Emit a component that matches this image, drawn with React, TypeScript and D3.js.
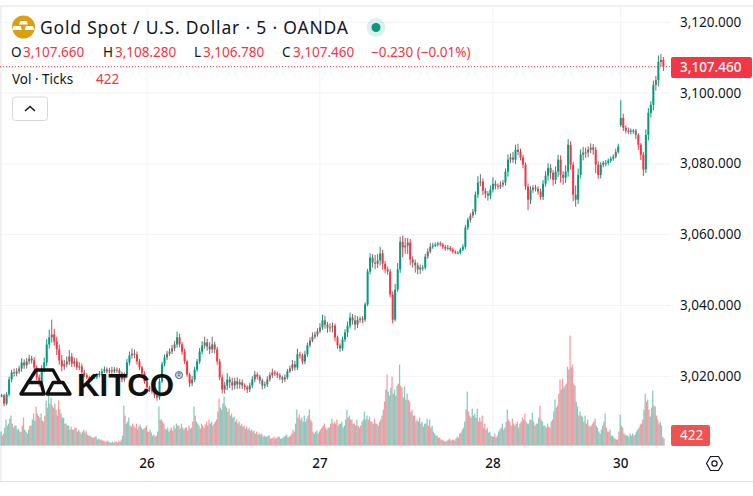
import React from 'react';
import * as d3 from 'd3';

// 20 minute candles, prices in USD
const closes = [
  3014.6, 3012.3, 3014.9, 3019.1, 3021.1, 3020.8, 3021.4, 3022.2, 3023.9, 3023.1, 3024.2, 3025.0, 3024.5, 3022.5, 3019.7, 3018.0, 3021.9, 3023.9, 3029.0, 3031.0,
  3031.8, 3029.8, 3027.6, 3024.5, 3022.8, 3023.4, 3024.2, 3025.6, 3023.6, 3024.2, 3022.5, 3022.8, 3021.1, 3020.3, 3019.7, 3019.1, 3019.7, 3019.7, 3020.3, 3020.8,
  3021.4, 3021.9, 3021.4, 3021.7, 3021.4, 3021.9, 3021.7, 3020.8, 3019.1, 3020.3, 3023.9, 3025.9, 3026.4, 3026.2, 3024.2, 3022.5, 3020.8, 3018.6, 3016.9, 3016.3,
  3015.7, 3014.6, 3014.0, 3018.6, 3023.4, 3025.3, 3026.4, 3027.0, 3027.9, 3029.0, 3031.0, 3029.0, 3027.0, 3024.2, 3020.5, 3018.0, 3019.1, 3021.9, 3024.2, 3027.0,
  3028.7, 3029.6, 3028.4, 3027.6, 3029.0, 3027.6, 3024.2, 3019.7, 3016.3, 3017.4, 3019.1, 3018.3, 3017.4, 3018.6, 3017.7, 3018.3, 3017.4, 3016.9, 3016.3, 3017.4,
  3019.1, 3020.5, 3019.9, 3018.8, 3017.4, 3017.7, 3019.1, 3020.3, 3021.1, 3020.8, 3020.3, 3019.7, 3019.1, 3019.7, 3021.4, 3022.2, 3023.4, 3022.5, 3026.2, 3025.9,
  3024.2, 3026.2, 3028.7, 3030.1, 3031.2, 3031.8, 3032.7, 3033.8, 3035.8, 3034.6, 3033.8, 3033.8, 3034.3, 3031.0, 3028.7, 3027.9, 3030.4, 3032.4, 3034.3, 3036.6,
  3035.8, 3034.6, 3036.0, 3036.3, 3036.0, 3040.3, 3049.6, 3053.5, 3052.1, 3051.8, 3052.7, 3054.7, 3051.8, 3050.2, 3049.6, 3043.1, 3036.0, 3044.5, 3050.2, 3058.0,
  3056.4, 3056.9, 3057.8, 3053.0, 3052.1, 3051.3, 3050.2, 3050.7, 3050.7, 3053.8, 3055.2, 3056.6, 3056.9, 3057.2, 3057.5, 3057.2, 3056.6, 3056.1, 3056.3, 3055.8,
  3055.2, 3054.9, 3054.9, 3055.8, 3056.6, 3062.0, 3064.2, 3065.4, 3066.5, 3071.3, 3074.7, 3075.0, 3072.4, 3071.6, 3071.0, 3072.7, 3074.4, 3073.8, 3073.6, 3074.1,
  3074.7, 3077.8, 3081.2, 3081.8, 3081.2, 3084.0, 3083.4, 3081.8, 3079.8, 3073.6, 3069.9, 3072.7, 3073.3, 3073.0, 3072.2, 3070.7, 3074.4, 3076.7, 3078.9, 3077.5,
  3075.5, 3077.8, 3081.2, 3076.9, 3076.1, 3077.8, 3085.4, 3079.8, 3071.3, 3069.9, 3076.9, 3082.6, 3083.2, 3083.2, 3084.0, 3084.6, 3084.0, 3079.8, 3076.9, 3079.8,
  3080.3, 3080.3, 3080.9, 3081.5, 3082.0, 3083.4, 3084.9, 3093.0, 3090.2, 3089.4, 3089.1, 3089.4, 3089.4, 3088.2, 3085.4, 3082.6, 3078.4, 3088.2, 3094.4, 3096.7,
  3102.3, 3103.7, 3108.8, 3109.4, 3107.46,
];

const wickUp = [
  0.4, 0.5, 0.6, 0.8, 0.7, 1.1, 0.9, 0.8, 1.2, 0.9, 1.0, 1.1, 0.8, 0.9, 0.6, 0.8, 1.2, 1.4, 1.5, 2.2,
  4.2, 1.6, 1.4, 1.3, 1.5, 1.2, 1.4, 1.8, 1.0, 1.1, 0.9, 1.2, 0.8, 0.7, 0.6, 0.5, 0.6, 0.5, 0.6, 0.7,
  0.8, 0.9, 0.6, 0.7, 1.0, 0.7, 0.6, 0.6, 0.5, 0.8, 1.0, 1.1, 1.5, 1.2, 0.8, 0.7, 0.5, 0.6, 0.5, 0.4,
  0.4, 0.5, 0.5, 0.8, 0.7, 0.9, 0.8, 0.9, 1.0, 1.0, 1.6, 1.0, 0.7, 0.8, 0.5, 0.5, 1.0, 0.8, 0.7, 1.0,
  1.2, 1.6, 1.0, 1.2, 2.2, 0.8, 0.7, 0.7, 0.8, 1.0, 1.8, 0.8, 1.3, 1.0, 1.1, 0.9, 0.8, 0.6, 0.5, 0.8,
  0.9, 1.0, 0.6, 0.5, 0.6, 0.8, 0.9, 0.8, 1.1, 0.6, 0.5, 0.6, 0.5, 0.8, 0.7, 0.8, 1.2, 1.0, 1.6, 0.7,
  0.5, 1.0, 0.8, 0.9, 1.2, 0.8, 0.9, 1.2, 1.6, 1.3, 0.8, 1.2, 0.9, 0.6, 0.5, 0.6, 0.8, 0.9, 1.2, 1.4,
  1.0, 1.5, 1.0, 0.6, 0.7, 0.6, 0.8, 1.2, 1.0, 2.2, 1.8, 1.9, 1.0, 0.8, 0.8, 0.7, 0.9, 1.6, 1.8, 1.4,
  1.7, 2.2, 1.3, 1.0, 0.9, 0.9, 0.8, 0.9, 0.8, 0.8, 0.9, 1.0, 0.8, 0.6, 0.5, 0.6, 0.5, 0.5, 0.8, 0.5,
  0.6, 0.4, 0.4, 0.5, 0.7, 0.8, 0.6, 0.7, 0.8, 0.9, 1.8, 2.1, 0.9, 0.8, 0.7, 1.2, 1.8, 0.9, 0.7, 1.0,
  0.8, 0.9, 1.5, 1.2, 1.6, 1.4, 1.7, 0.9, 0.7, 0.6, 0.8, 1.0, 0.7, 0.8, 0.7, 0.8, 1.0, 1.2, 1.3, 1.0,
  0.8, 1.5, 1.4, 1.2, 1.0, 1.8, 1.6, 1.0, 0.8, 2.6, 1.8, 1.5, 1.6, 1.4, 1.0, 1.2, 1.0, 0.8, 0.9, 0.7,
  0.5, 0.8, 0.6, 0.6, 0.7, 0.9, 0.8, 5.0, 1.2, 0.7, 0.9, 0.6, 0.5, 0.5, 0.4, 0.5, 0.7, 1.5, 1.4, 1.0,
  1.2, 1.2, 1.8, 1.6, 0.8,
];

const wickDown = [
  0.5, 0.8, 0.5, 0.6, 0.8, 0.9, 0.8, 0.7, 0.9, 1.0, 0.9, 0.8, 0.9, 0.7, 0.8, 0.9, 0.7, 0.8, 1.0, 1.2,
  1.5, 1.1, 1.6, 1.2, 1.4, 1.0, 0.9, 1.0, 1.0, 0.9, 0.7, 0.8, 0.7, 0.6, 0.5, 0.5, 0.5, 0.4, 0.5, 0.6,
  0.6, 0.5, 0.6, 0.6, 0.7, 0.5, 0.7, 0.8, 0.8, 0.6, 0.7, 0.8, 0.9, 1.1, 0.9, 0.8, 0.6, 0.7, 0.6, 0.7,
  0.6, 0.8, 0.9, 0.6, 0.5, 0.6, 0.7, 0.6, 0.7, 0.8, 0.9, 0.8, 0.9, 0.7, 0.6, 1.0, 0.8, 0.7, 0.6, 0.7,
  0.8, 0.9, 1.2, 1.3, 1.0, 1.1, 0.9, 0.8, 1.1, 1.2, 1.3, 1.6, 1.4, 1.1, 1.3, 1.2, 1.0, 0.9, 1.0, 0.8,
  0.7, 0.8, 0.8, 0.9, 1.1, 0.8, 0.7, 0.6, 0.8, 0.7, 0.8, 0.8, 1.0, 0.7, 0.6, 0.5, 0.7, 0.9, 0.7, 0.9,
  0.8, 0.8, 0.7, 0.6, 0.5, 0.6, 0.6, 0.5, 0.7, 1.2, 1.5, 1.3, 1.4, 1.1, 0.9, 1.0, 0.7, 0.8, 1.3, 0.8,
  1.2, 1.5, 1.0, 0.9, 1.0, 0.6, 0.5, 0.8, 1.4, 1.5, 1.2, 1.4, 1.6, 1.1, 0.9, 0.8, 1.0, 0.5, 0.6, 1.0,
  2.8, 1.8, 2.4, 1.6, 1.4, 2.0, 1.4, 1.3, 0.9, 0.6, 0.6, 0.5, 0.6, 0.4, 0.5, 0.5, 0.6, 0.6, 0.5, 0.5,
  0.5, 0.4, 0.4, 0.4, 0.4, 0.6, 0.7, 0.8, 0.7, 0.8, 1.0, 1.0, 1.2, 1.3, 1.4, 1.0, 0.8, 1.0, 0.8, 0.7,
  0.7, 0.8, 1.4, 1.0, 0.9, 1.2, 0.9, 0.8, 1.0, 0.9, 3.0, 1.2, 0.9, 0.8, 0.9, 0.8, 0.9, 0.8, 1.4, 1.8,
  1.6, 1.2, 1.5, 2.2, 2.0, 1.5, 1.4, 1.4, 1.8, 2.0, 1.2, 1.0, 1.6, 1.5, 1.3, 1.0, 1.4, 2.4, 1.1, 1.0,
  0.8, 1.0, 0.7, 0.6, 0.6, 0.5, 0.5, 0.6, 0.9, 0.8, 0.7, 0.8, 0.9, 1.2, 1.4, 1.5, 1.8, 1.0, 1.6, 1.3,
  1.5, 1.6, 1.8, 1.2, 1.2,
];

// ticks per candle, peak bar in each 20 minutes
const volumes = [
  700, 600, 1300, 1100, 1500, 900, 1000, 850, 700, 1400, 700, 800, 1000, 1600, 1950, 1500, 1600, 1200, 2250, 2600,
  2400, 1900, 1800, 2250, 1600, 1400, 1100, 1000, 950, 800, 900, 800, 600, 800, 750, 500, 450, 400, 450, 350,
  300, 250, 200, 200, 150, 150, 200, 250, 300, 2000, 1100, 1400, 950, 1000, 1100, 950, 900, 850, 1000, 700,
  650, 550, 500, 1950, 1300, 1100, 800, 700, 900, 1000, 1100, 1000, 1100, 800, 900, 1000, 900, 1950, 1200, 1000,
  1100, 900, 1200, 1300, 1200, 1100, 1300, 2350, 1800, 2450, 1900, 1850, 1600, 1450, 1300, 1200, 1100, 1000, 950, 900,
  800, 750, 700, 600, 600, 500, 450, 500, 350, 450, 400, 450, 350, 450, 550, 450, 600, 700, 1800, 1550,
  1400, 1500, 1350, 1800, 1200, 600, 750, 700, 900, 1100, 800, 900, 1350, 1200, 1300, 1100, 1200, 1000, 1800, 1500,
  1300, 1100, 1300, 900, 1200, 1700, 1500, 1450, 1200, 1350, 1100, 1200, 1500, 2200, 3550, 2500, 3450, 2800, 3000, 4050,
  2900, 2950, 2600, 2200, 1800, 1500, 1300, 1400, 1200, 1100, 1350, 1300, 1000, 600, 500, 400, 300, 200, 250, 350,
  300, 250, 450, 600, 800, 1200, 2700, 1500, 1850, 1600, 1850, 1400, 1500, 1100, 900, 700, 450, 600, 500, 800,
  1100, 900, 1800, 1200, 1350, 1000, 1200, 1100, 1400, 1600, 1100, 1300, 1650, 1000, 1100, 2000, 1200, 1000, 1100, 900,
  1300, 2300, 2000, 3300, 3350, 3000, 3950, 5500, 4050, 3000, 1950, 1700, 1450, 1500, 1300, 950, 1100, 1350, 900, 600,
  1000, 1600, 700, 800, 500, 350, 300, 1550, 900, 550, 500, 600, 600, 550, 800, 1050, 1300, 2600, 2300, 1450,
  2750, 1950, 1300, 1200, 422,
];

// ticks of the other bars inside each 20 minutes, mostly the opposite colour
const volumesOther = [
  500, 900, 1000, 1350, 1100, 1000, 800, 700, 1000, 800, 600, 1000, 1300, 1250, 1600, 1400, 1250, 1500, 1900, 2100,
  2000, 2100, 1500, 1800, 1400, 1100, 1000, 800, 800, 900, 700, 700, 700, 650, 550, 500, 400, 450, 300, 300,
  250, 200, 250, 150, 200, 200, 150, 200, 500, 1500, 1200, 1000, 1100, 900, 800, 1050, 800, 900, 700, 800,
  500, 450, 700, 1300, 1200, 850, 900, 800, 750, 850, 1000, 850, 900, 900, 750, 850, 1200, 1500, 1100, 850,
  1000, 1050, 1000, 1100, 1000, 1200, 1700, 1900, 2100, 2000, 1700, 1500, 1400, 1200, 1100, 1000, 950, 850, 800, 750,
  700, 600, 550, 550, 450, 450, 500, 350, 400, 350, 450, 350, 400, 500, 400, 500, 800, 1100, 1400, 1300,
  1200, 1200, 1500, 1300, 700, 700, 600, 800, 1000, 900, 900, 1100, 1100, 1100, 1000, 1100, 900, 1300, 1400, 1300,
  1100, 1000, 1000, 1000, 1300, 1300, 1300, 1200, 1100, 1100, 1000, 1300, 1800, 2800, 2700, 2900, 2600, 2500, 3100, 3000,
  2400, 2300, 2300, 1700, 1500, 1200, 1200, 1100, 950, 1100, 1000, 900, 700, 500, 400, 300, 250, 200, 300, 250,
  300, 350, 400, 650, 900, 1800, 1700, 1400, 1500, 1400, 1200, 1200, 900, 800, 650, 500, 450, 400, 700, 900,
  800, 1200, 1300, 1000, 1100, 1100, 900, 1200, 1300, 1200, 1100, 1300, 1200, 1100, 1400, 1300, 1000, 900, 950, 1200,
  1700, 1900, 2600, 2800, 2900, 3100, 3800, 3900, 3100, 2200, 1500, 1500, 1200, 1100, 1000, 1000, 1200, 1000, 700, 800,
  1200, 900, 700, 500, 400, 300, 700, 1000, 600, 500, 450, 500, 500, 700, 900, 1100, 1800, 2200, 1800, 1900,
  2000, 1500, 1100, 1000, 350,
];

const priceTicks = [3020, 3040, 3060, 3080, 3100, 3120];
const dayLabels = ['26', '27', '28', '30'];
const dayIndex = [58, 127, 196, 247];
// the session gap on the 30th opens well above the prior close
const sessionOpens = new Map<number, number>([[247, 3091.0]]);

const green = '#089981';
const red = '#F23645';
const mixed = '#7d6a6a';
const grid = '#f0f3fa';
const uiFont = "'Noto Sans', sans-serif";

const width = 753;
const height = 496;
const plotRight = 670;

const x = d3.scaleLinear().domain([0, closes.length - 1]).range([1.6, 663.4]);
const y = d3.scaleLinear().domain([3020, 3120]).range([376.3, 22.3]);
const volY = d3.scaleLinear().domain([0, 5500]).range([445.6, 335.6]);
const fmt = d3.format(',.3f');

const opens = closes.map((c, i) => sessionOpens.get(i) ?? (i === 0 ? c : closes[i - 1]));

const Logo = () => (
  <g>
    <g fill="none" stroke="#111" strokeWidth={3.4} strokeLinejoin="round">
      <path d="M21,394 L28,382.5 L41,382.5 L44,394 Z" />
      <path d="M47,394 L53,382.5 L63,382.5 L70,394 Z" />
      <path d="M28,382.5 L36,370 L53,370 L60,382.5" />
    </g>
    <text x={77} y={395.5} fontFamily="'Liberation Sans', sans-serif" fontWeight={700} fontSize={31} textLength={97} lengthAdjust="spacingAndGlyphs" fill="#111">KITCO</text>
    <text x={179} y={378.5} textAnchor="middle" fontFamily="'Liberation Sans', sans-serif" fontSize={9} fill="#333">®</text>
    <circle cx={179} cy={375} r={3.6} fill="none" stroke="#555" strokeWidth={0.8} />
  </g>
);

const App: React.FC = () => {
  return (
    <svg width={width} height={height} style={{ position: 'fixed', left: 0, top: 0, background: '#fff' }}>
      {/* grid */}
      {priceTicks.map(t => (
        <line key={t} x1={1} x2={plotRight} y1={y(t)} y2={y(t)} stroke={grid} />
      ))}
      {dayIndex.map(d => (
        <line key={d} x1={x(d)} x2={x(d)} y1={6} y2={447} stroke={grid} />
      ))}
      <line x1={0} x2={width} y1={6} y2={6} stroke="#e0e3eb" />
      <line x1={0} x2={width} y1={481.5} y2={481.5} stroke="#e0e3eb" />
      <line x1={1} x2={1} y1={6} y2={481.5} stroke="#e0e3eb" />

      {/* volume */}
      {volumes.map((v, i) => {
        const up = closes[i] >= opens[i];
        return (
          <g key={i}>
            <rect x={x(i) - 1.25} y={volY(v)} width={1.25} height={volY(0) - volY(v)} fill={up ? green : red} fillOpacity={0.5} />
            <rect x={x(i)} y={volY(volumesOther[i])} width={1.25} height={volY(0) - volY(volumesOther[i])} fill={up ? red : green} fillOpacity={0.5} />
          </g>
        );
      })}

      {/* last price line */}
      <line x1={0} x2={plotRight} y1={y(closes[closes.length - 1])} y2={y(closes[closes.length - 1])} stroke={red} strokeDasharray="1 2" />

      {/* candles */}
      {closes.map((c, i) => {
        const o = opens[i];
        const top = Math.max(o, c);
        const bottom = Math.min(o, c);
        const hi = top + wickUp[i];
        const lo = bottom - wickDown[i];
        const body = Math.abs(y(o) - y(c));
        const color = body < 5 && hi - lo > 2 ? mixed : c >= o ? green : red;
        return (
          <g key={i}>
            <line x1={x(i)} x2={x(i)} y1={y(hi)} y2={y(lo)} stroke={color} strokeWidth={1} />
            <rect x={x(i) - 1} y={y(top)} width={2} height={Math.max(body, 1)} fill={color} />
          </g>
        );
      })}

      <Logo />

      {/* legend */}
      <circle cx={23.5} cy={27} r={11.5} fill="#D9A012" />
      <path d="M20.5,21 h6 l1.5,3.5 h-9 Z M13.5,26 h7 l1.5,4 h-10 Z M26,26 h7 l1.5,4 h-10 Z" fill="#fff" />
      <text x={40} y={33.5} fontFamily={uiFont} fontSize={17.5} fill="#131722" textLength={308} lengthAdjust="spacing">Gold Spot / U.S. Dollar · 5 · OANDA</text>
      <circle cx={376} cy={27.5} r={9.5} fill="#089981" fillOpacity={0.14} />
      <circle cx={376} cy={27.5} r={4.5} fill="#089981" />

      <text x={11} y={57} fontFamily={uiFont} fontSize={13.5} fill="#131722">O</text>
      <text x={23} y={57} fontFamily={uiFont} fontSize={13.5} fill={red}>3,107.660</text>
      <text x={103} y={57} fontFamily={uiFont} fontSize={13.5} fill="#131722">H</text>
      <text x={115} y={57} fontFamily={uiFont} fontSize={13.5} fill={red}>3,108.280</text>
      <text x={194} y={57} fontFamily={uiFont} fontSize={13.5} fill="#131722">L</text>
      <text x={203} y={57} fontFamily={uiFont} fontSize={13.5} fill={red}>3,106.780</text>
      <text x={282} y={57} fontFamily={uiFont} fontSize={13.5} fill="#131722">C</text>
      <text x={293} y={57} fontFamily={uiFont} fontSize={13.5} fill={red}>3,107.460</text>
      <text x={371} y={57} fontFamily={uiFont} fontSize={13.5} fill={red}>−0.230 (−0.01%)</text>

      <text x={12} y={84} fontFamily={uiFont} fontSize={13.5} fill="#131722">Vol · Ticks</text>
      <text x={96} y={84} fontFamily={uiFont} fontSize={13.5} fill={red}>422</text>

      <rect x={12.5} y={97} width={35} height={23.5} rx={3} fill="#fff" stroke="#d6d8de" />
      <path d="M25,111 L30,106.5 L35,111" fill="none" stroke="#131722" strokeWidth={1.5} />

      {/* price axis */}
      {priceTicks.map(t => (
        <text key={t} x={680} y={y(t) + 4.5} fontFamily={uiFont} fontSize={13.5} fill="#131722">{fmt(t)}</text>
      ))}
      <rect x={671} y={57} width={81} height={21} rx={2} fill={red} />
      <text x={680} y={72} fontFamily={uiFont} fontSize={13.5} fontWeight={500} fill="#fff">{fmt(closes[closes.length - 1])}</text>
      <rect x={671} y={425} width={39} height={21} rx={2} fill="#ef5350" />
      <text x={680} y={440} fontFamily={uiFont} fontSize={13.5} fill="#fff">{volumes[volumes.length - 1]}</text>

      {/* time axis */}
      {dayLabels.map((d, i) => (
        <text key={d} x={x(dayIndex[i])} y={468} textAnchor="middle" fontFamily={uiFont} fontSize={13.5} fontWeight={500} fill="#131722">{d}</text>
      ))}

      {/* settings */}
      <path d="M706.5,463.5 L710.5,456.5 L718.5,456.5 L722.5,463.5 L718.5,470.5 L710.5,470.5 Z" fill="none" stroke="#131722" strokeWidth={1.2} />
      <circle cx={714.5} cy={463.5} r={2.6} fill="none" stroke="#131722" strokeWidth={1.2} />
    </svg>
  );
};

export default App;
